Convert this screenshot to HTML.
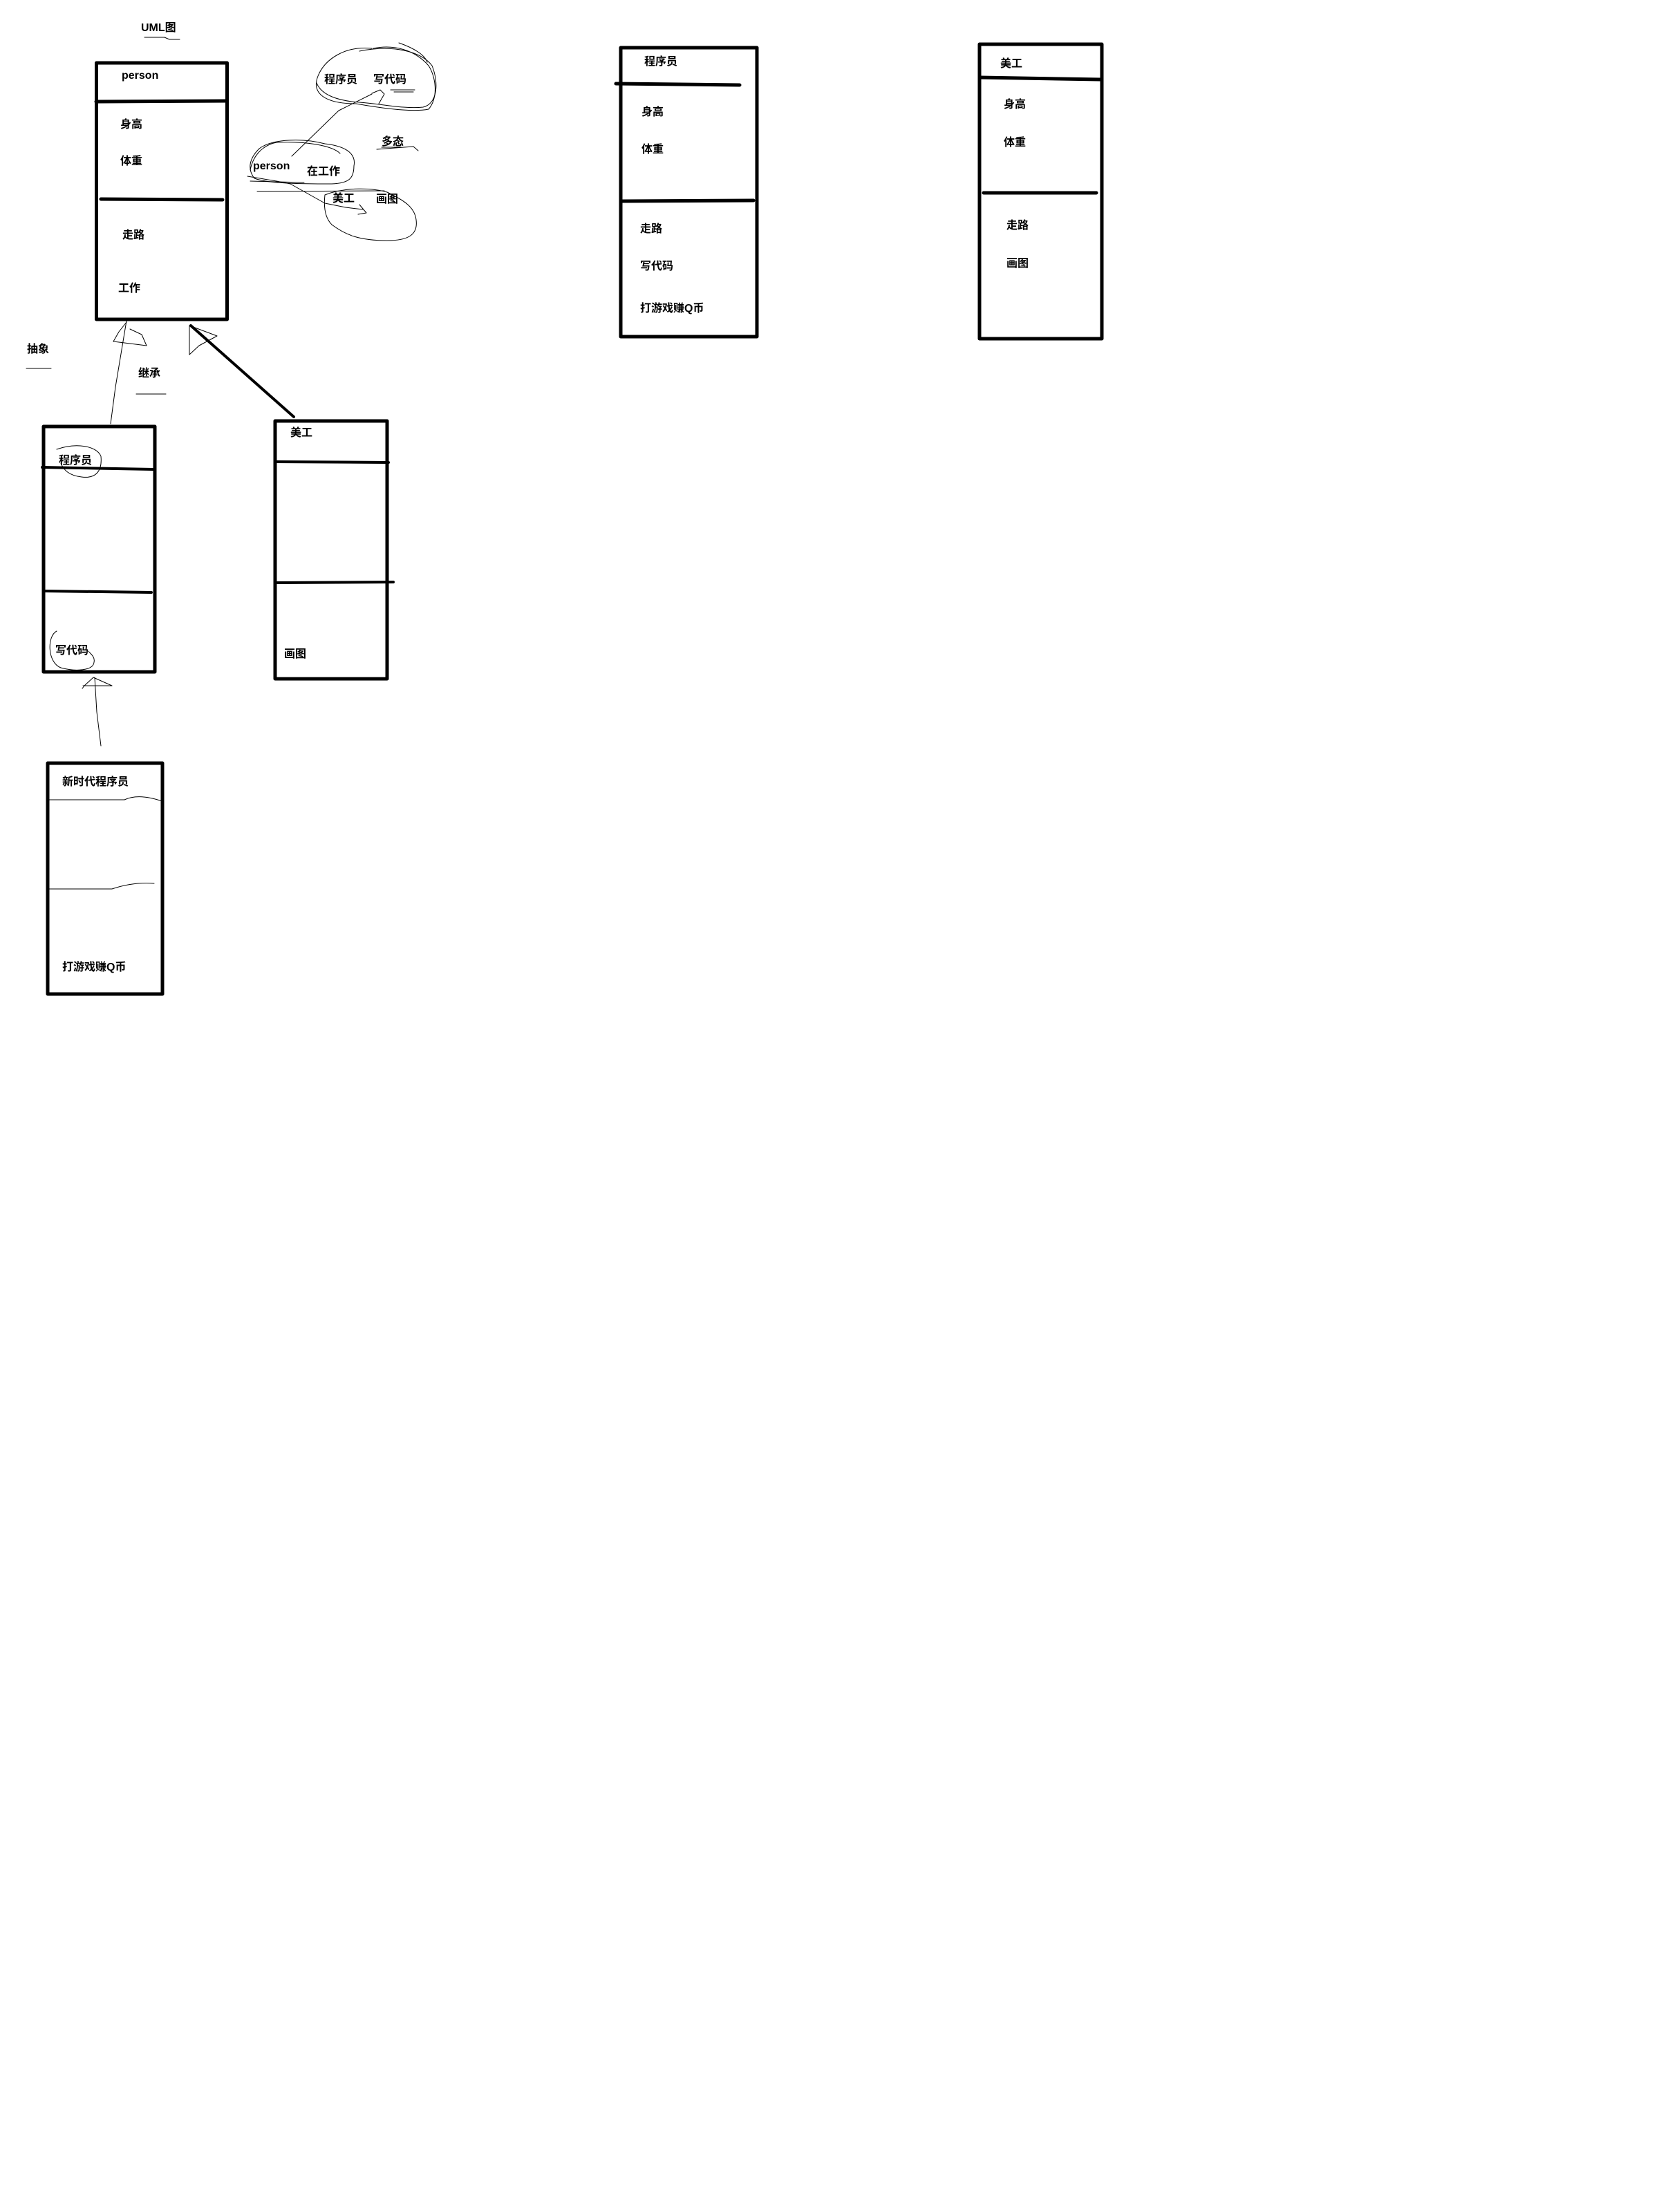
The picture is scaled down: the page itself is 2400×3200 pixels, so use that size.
<!DOCTYPE html>
<html><head><meta charset="utf-8"><style>
html,body{margin:0;padding:0;background:#fff;}
svg{display:block}
text{font-family:"Liberation Sans","Noto Sans CJK SC",sans-serif;font-weight:bold;font-size:16px;fill:#000}
</style></head><body>
<svg width="2400" height="3200" viewBox="0 0 2400 3200" xmlns="http://www.w3.org/2000/svg">
<g fill="none" stroke="#000" stroke-linecap="round" stroke-linejoin="round">
<rect x="139.5" y="91" width="189" height="371" stroke-width="5"/>
<line x1="139" y1="147" x2="328" y2="146" stroke-width="5"/>
<line x1="146" y1="288" x2="322" y2="289" stroke-width="5"/>
<polyline points="209,54 238,54 245,57 260,57" stroke-width="1"/>
<polyline points="183,464 167,560 160,613" stroke-width="1"/>
<polyline points="183,466 172,480 164,494 212,500 205,484 188,476" stroke-width="1"/>
<line x1="276" y1="471" x2="425" y2="603" stroke-width="4"/>
<polyline points="274,471 314,486 288,500 274,513 274,471" stroke-width="1"/>
<line x1="38" y1="533" x2="74" y2="533" stroke-width="1"/>
<line x1="197" y1="570" x2="240" y2="570" stroke-width="1"/>
<rect x="63" y="617" width="161" height="355" stroke-width="5"/>
<line x1="61" y1="676" x2="222" y2="679" stroke-width="4"/>
<line x1="65" y1="855" x2="219" y2="857" stroke-width="4"/>
<path d="M82,650 C110,640 140,645 146,660 C148,680 140,693 118,690 C100,688 92,680 88,670" stroke-width="1"/>
<path d="M82,913 C68,920 68,958 88,966 C110,972 135,970 136,958 C138,950 130,945 128,942" stroke-width="1"/>
<polyline points="146,1079 140,1030 137,980" stroke-width="1"/>
<polyline points="119,996 122,992 135,980 162,992 120,992" stroke-width="1"/>
<rect x="69" y="1104" width="166" height="334" stroke-width="5"/>
<path d="M71,1157 L180,1157 C195,1150 215,1152 237,1160" stroke-width="1"/>
<path d="M71,1286 L162,1286 C180,1280 200,1276 223,1278" stroke-width="1"/>
<rect x="398" y="609" width="162" height="373" stroke-width="5"/>
<line x1="398" y1="668" x2="562" y2="669" stroke-width="4"/>
<line x1="400" y1="843" x2="569" y2="842" stroke-width="4"/>
<rect x="898" y="69" width="197" height="418" stroke-width="5"/>
<line x1="891" y1="121" x2="1070" y2="123" stroke-width="5"/>
<line x1="898" y1="291" x2="1090" y2="290" stroke-width="5"/>
<rect x="1417" y="64" width="177" height="426" stroke-width="5"/>
<line x1="1417" y1="112" x2="1592" y2="115" stroke-width="5"/>
<line x1="1423" y1="279" x2="1586" y2="279" stroke-width="5"/>
<g stroke-width="1">
<path d="M538,70 C500,66 470,85 460,110 C450,135 470,150 515,150 C560,158 600,162 620,158 C635,140 630,110 620,95 C600,72 570,64 540,70"/>
<path d="M520,74 C570,64 610,75 625,95 C635,120 633,150 612,155 C585,158 550,150 520,148 C490,146 465,138 458,120"/>
<path d="M577,62 C600,70 615,80 618,90"/>
<polyline points="538,135 550,130 556,136 548,150"/>
<line x1="565" y1="130" x2="600" y2="130"/>
<line x1="570" y1="133" x2="598" y2="133"/>
<polyline points="422,226 490,160 538,136"/>
<path d="M375,215 C395,200 440,200 470,208 C505,212 515,225 512,240 C512,258 505,265 480,266 C440,266 390,266 368,258 C358,245 360,230 375,215"/>
<path d="M362,246 C366,225 380,210 400,206 C440,204 480,210 492,222"/>
<polyline points="358,255 400,262 420,266 470,294 500,300 525,303"/>
<polyline points="520,296 530,308 518,310"/>
<line x1="372" y1="277" x2="556" y2="276"/>
<line x1="362" y1="262" x2="440" y2="264"/>
<path d="M470,282 C500,270 540,272 560,278 C585,290 600,300 602,318 C605,340 590,348 560,348 C520,348 500,340 480,325 C470,315 468,300 470,282"/>
<polyline points="545,216 598,212 605,218"/>
<line x1="552" y1="213" x2="580" y2="213"/>
</g>
</g>
<text x="204" y="45">UML图</text>
<text x="176" y="114">person</text>
<text x="174" y="185">身高</text>
<text x="174" y="238">体重</text>
<text x="177" y="345">走路</text>
<text x="171" y="422">工作</text>
<text x="39" y="510">抽象</text>
<text x="200" y="545">继承</text>
<text x="469" y="120">程序员</text>
<text x="540" y="120">写代码</text>
<text x="552" y="210">多态</text>
<text x="366" y="245">person</text>
<text x="444" y="253">在工作</text>
<text x="481" y="292">美工</text>
<text x="544" y="293">画图</text>
<text x="85" y="671">程序员</text>
<text x="80" y="946">写代码</text>
<text x="420" y="631">美工</text>
<text x="411" y="951">画图</text>
<text x="90" y="1136">新时代程序员</text>
<text x="90" y="1404">打游戏赚Q币</text>
<text x="932" y="94">程序员</text>
<text x="928" y="167">身高</text>
<text x="928" y="221">体重</text>
<text x="926" y="336">走路</text>
<text x="926" y="390">写代码</text>
<text x="926" y="451">打游戏赚Q币</text>
<text x="1447" y="97">美工</text>
<text x="1452" y="156">身高</text>
<text x="1452" y="211">体重</text>
<text x="1456" y="331">走路</text>
<text x="1456" y="386">画图</text>
</svg>
</body></html>
